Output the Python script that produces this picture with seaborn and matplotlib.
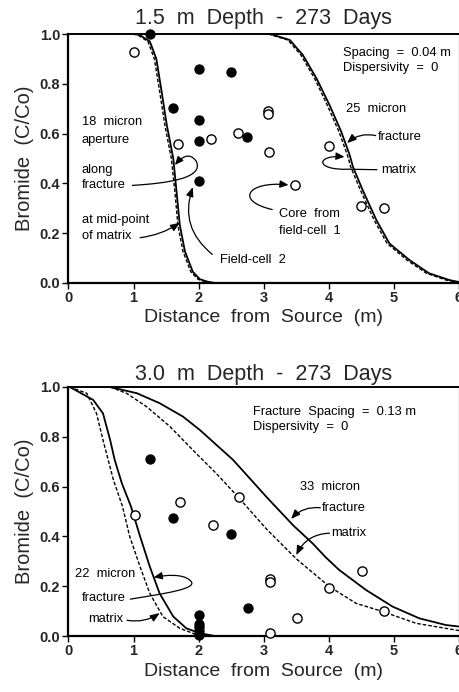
import numpy as np
import pandas as pd
import matplotlib
matplotlib.use("Agg")
import matplotlib.pyplot as plt
from matplotlib.path import Path
from matplotlib.patches import FancyArrowPatch
import seaborn as sns

# ---------------- data ----------------
# Top panel (1.5 m depth)
top_filled_x = [1.25, 2.0, 2.5, 1.6, 2.0, 2.0, 2.75, 2.0]
top_filled_y = [1.0, 0.86, 0.848, 0.704, 0.655, 0.57, 0.588, 0.41]
top_open_x = [1.0, 1.69, 2.19, 2.6, 3.07, 3.07, 3.08, 4.0, 3.48, 4.5, 4.84]
top_open_y = [0.926, 0.558, 0.577, 0.601, 0.69, 0.678, 0.527, 0.551, 0.394, 0.31, 0.30]

top18_frac_x = [1.02, 1.10, 1.25, 1.35, 1.43, 1.51, 1.61, 1.66, 1.71, 1.79, 1.91, 2.02, 2.14, 2.25]
top18_frac_y = [1.0, 0.995, 0.97, 0.90, 0.77, 0.635, 0.50, 0.367, 0.233, 0.126, 0.045, 0.015, 0.005, 0.0]
top18_mat_x = [0.99, 1.07, 1.22, 1.32, 1.40, 1.48, 1.58, 1.635, 1.68, 1.76, 1.88, 1.99, 2.10, 2.20]
top18_mat_y = [1.0, 0.995, 0.97, 0.90, 0.77, 0.635, 0.50, 0.367, 0.233, 0.126, 0.045, 0.015, 0.005, 0.0]

top25_frac_x = [3.10, 3.40, 3.60, 3.81, 4.01, 4.19, 4.32, 4.37, 4.52, 4.73, 4.93, 5.24, 5.54, 5.85, 6.0]
top25_frac_y = [1.0, 0.976, 0.916, 0.822, 0.715, 0.608, 0.514, 0.467, 0.373, 0.253, 0.159, 0.092, 0.039, 0.012, 0.004]
top25_mat_x = [3.07, 3.37, 3.57, 3.78, 3.975, 4.155, 4.285, 4.335, 4.485, 4.695, 4.895, 5.20, 5.50, 5.80, 6.0]
top25_mat_y = [1.0, 0.976, 0.916, 0.822, 0.715, 0.608, 0.514, 0.467, 0.373, 0.253, 0.159, 0.092, 0.039, 0.012, 0.002]

# Bottom panel (3.0 m depth)
bot_filled_x = [1.25, 1.6, 2.5, 2.76, 2.0, 2.0, 2.0, 2.0, 2.0]
bot_filled_y = [0.711, 0.475, 0.408, 0.114, 0.084, 0.05, 0.035, 0.02, 0.005]
bot_open_x = [1.02, 1.71, 2.22, 2.62, 3.09, 3.09, 3.09, 3.51, 4.01, 4.51, 4.85]
bot_open_y = [0.486, 0.539, 0.446, 0.557, 0.228, 0.215, 0.011, 0.071, 0.191, 0.262, 0.10]

bot22_frac_x = [0.02, 0.38, 0.53, 0.64, 0.71, 0.82, 0.96, 1.10, 1.25, 1.40, 1.61, 1.81, 2.02, 2.25]
bot22_frac_y = [1.0, 0.948, 0.894, 0.787, 0.707, 0.613, 0.52, 0.40, 0.278, 0.171, 0.078, 0.031, 0.011, 0.0]
bot22_mat_x = [0.02, 0.28, 0.43, 0.53, 0.69, 0.83, 0.94, 1.10, 1.25, 1.45, 1.71, 1.91, 2.0]
bot22_mat_y = [1.0, 0.975, 0.894, 0.787, 0.627, 0.52, 0.40, 0.278, 0.171, 0.078, 0.031, 0.011, 0.0]

bot33_frac_x = [0.64, 1.05, 1.40, 1.76, 2.02, 2.53, 3.04, 3.45, 3.75, 3.96, 4.16, 4.57, 4.98, 5.39, 5.80, 6.0]
bot33_frac_y = [1.0, 0.975, 0.935, 0.881, 0.827, 0.707, 0.559, 0.445, 0.372, 0.314, 0.265, 0.185, 0.118, 0.071, 0.044, 0.038]
bot33_mat_x = [0.64, 0.89, 1.20, 1.56, 1.91, 2.27, 2.60, 3.04, 3.50, 4.01, 4.42, 4.83, 5.34, 5.95, 6.0]
bot33_mat_y = [1.0, 0.975, 0.921, 0.841, 0.747, 0.653, 0.56, 0.43, 0.31, 0.198, 0.131, 0.098, 0.051, 0.024, 0.022]

x_ticks = [0, 1, 2, 3, 4, 5, 6]
y_ticks = [0.0, 0.2, 0.4, 0.6, 0.8, 1.0]
y_ticklabels = ["0.0", "0.2", "0.4", "0.6", "0.8", "1.0"]

# ---------------- style ----------------
sns.set_style("ticks")
plt.rcParams['font.family'] = ['Liberation Sans', 'DejaVu Sans']

fig = plt.figure(figsize=(4.6, 6.92), dpi=100)
ax1 = fig.add_axes([68.5 / 460, 1 - 283 / 692, (459 - 68.5) / 460, 249 / 692])
ax2 = fig.add_axes([68.5 / 460, 1 - 636 / 692, (459 - 68.5) / 460, 249 / 692])

solid_kw = dict(color="black", lw=1.3, estimator=None, sort=False)


def curves(ax, fx, fy, mx, my):
    sns.lineplot(x=fx, y=fy, ax=ax, **solid_kw)
    l = sns.lineplot(x=mx, y=my, ax=ax, color="black", lw=1.0, estimator=None, sort=False)
    l.lines[-1].set_linestyle((0, (2.6, 1.4)))


def points(ax, fxs, fys, oxs, oys):
    sns.scatterplot(x=fxs, y=fys, ax=ax, s=44, color="black", edgecolor="black",
                    linewidth=0.8, zorder=5, clip_on=False)
    sns.scatterplot(x=oxs, y=oys, ax=ax, s=44, facecolor="white", edgecolor="black",
                    linewidth=1.0, zorder=5, clip_on=False)


curves(ax1, top18_frac_x, top18_frac_y, top18_mat_x, top18_mat_y)
curves(ax1, top25_frac_x, top25_frac_y, top25_mat_x, top25_mat_y)
points(ax1, top_filled_x, top_filled_y, top_open_x, top_open_y)

curves(ax2, bot22_frac_x, bot22_frac_y, bot22_mat_x, bot22_mat_y)
curves(ax2, bot33_frac_x, bot33_frac_y, bot33_mat_x, bot33_mat_y)
points(ax2, bot_filled_x, bot_filled_y, bot_open_x, bot_open_y)

for ax in (ax1, ax2):
    ax.set_xlim(0, 6)
    ax.set_ylim(0, 1.0)
    ax.set_xticks(x_ticks)
    ax.set_yticks(y_ticks)
    ax.set_yticklabels(y_ticklabels)
    ax.tick_params(axis="both", direction="out", length=4, width=1.0, labelsize=10.5,
                   pad=2, color="black")
    for lab in ax.get_xticklabels() + ax.get_yticklabels():
        lab.set_fontweight("bold")
    for s in ax.spines.values():
        s.set_visible(True)
        s.set_color("black")
    ax.spines["left"].set_linewidth(1.6)
    ax.spines["bottom"].set_linewidth(1.6)
    ax.spines["top"].set_linewidth(1.4)
    ax.spines["right"].set_linewidth(0.8)
    ax.set_xlabel("Distance  from  Source  (m)", fontsize=14, labelpad=3)
    ax.set_ylabel("Bromide  (C/Co)", fontsize=14.5, labelpad=4)
    ax.set_facecolor("white")

ax1.set_title("1.5  m  Depth  -  273  Days", fontsize=15.5, pad=7)
ax2.set_title("3.0  m  Depth  -  273  Days", fontsize=15.5, pad=5)

tk = dict(fontsize=9.3, color="black")


def arrow_path(ax, verts, codes):
    p = FancyArrowPatch(path=Path(verts, codes), arrowstyle="-|>,head_length=5,head_width=2.2",
                        mutation_scale=1, lw=0.9, color="black", zorder=6)
    ax.add_patch(p)


def arrow(ax, start, end, rad):
    ax.annotate("", xy=end, xytext=start,
                arrowprops=dict(arrowstyle="-|>,head_length=0.55,head_width=0.22",
                                lw=0.9, color="black",
                                connectionstyle=f"arc3,rad={rad}", shrinkA=0, shrinkB=0))


M, L, C = Path.MOVETO, Path.LINETO, Path.CURVE4

# --- top annotations ---
ax1.text(4.21, 0.922, "Spacing  =  0.04 m", ha="left", va="center", **tk)
ax1.text(4.21, 0.862, "Dispersivity  =  0", ha="left", va="center", **tk)
ax1.text(4.27, 0.70, "25  micron", ha="left", va="center", **tk)
ax1.text(4.76, 0.588, "fracture", ha="left", va="center", **tk)
ax1.text(4.80, 0.454, "matrix", ha="left", va="center", **tk)
ax1.text(0.20, 0.648, "18  micron", ha="left", va="center", **tk)
ax1.text(0.20, 0.574, "aperture", ha="left", va="center", **tk)
ax1.text(0.20, 0.454, "along", ha="left", va="center", **tk)
ax1.text(0.20, 0.394, "fracture", ha="left", va="center", **tk)
ax1.text(0.20, 0.253, "at mid-point", ha="left", va="center", **tk)
ax1.text(0.20, 0.189, "of matrix", ha="left", va="center", **tk)
ax1.text(2.33, 0.092, "Field-cell  2", ha="left", va="center", **tk)
ax1.text(3.24, 0.277, "Core  from", ha="left", va="center", **tk)
ax1.text(3.24, 0.21, "field-cell  1", ha="left", va="center", **tk)

arrow(ax1, (4.72, 0.592), (4.28, 0.562), 0.25)
arrow_path(ax1, [(4.74, 0.455), (4.3, 0.457), (3.78, 0.452), (3.8, 0.515), (4.24, 0.507)],
           [M, L, C, C, C])
arrow_path(ax1, [(0.98, 0.392), (1.5, 0.40), (2.1, 0.42), (1.96, 0.49),
                 (1.85, 0.53), (1.72, 0.50), (1.635, 0.474)],
           [M, C, C, C, C, C, C])
arrow(ax1, (1.10, 0.182), (1.71, 0.242), 0.12)
arrow(ax1, (2.21, 0.115), (1.91, 0.385), -0.35)
arrow_path(ax1, [(3.13, 0.295), (2.55, 0.33), (2.75, 0.41), (3.38, 0.394)],
           [M, C, C, C])

# --- bottom annotations ---
ax2.text(2.83, 0.90, "Fracture  Spacing  =  0.13 m", ha="left", va="center", **tk)
ax2.text(2.83, 0.84, "Dispersivity  =  0", ha="left", va="center", **tk)
ax2.text(3.55, 0.60, "33  micron", ha="left", va="center", **tk)
ax2.text(3.90, 0.513, "fracture", ha="left", va="center", **tk)
ax2.text(4.03, 0.412, "matrix", ha="left", va="center", **tk)
ax2.text(0.10, 0.249, "22  micron", ha="left", va="center", **tk)
ax2.text(0.20, 0.151, "fracture", ha="left", va="center", **tk)
ax2.text(0.30, 0.067, "matrix", ha="left", va="center", **tk)

arrow(ax2, (3.87, 0.515), (3.42, 0.47), 0.25)
arrow(ax2, (4.01, 0.413), (3.50, 0.325), 0.3)
arrow_path(ax2, [(0.95, 0.148), (1.45, 0.17), (2.05, 0.19), (1.86, 0.225),
                 (1.75, 0.25), (1.5, 0.245), (1.31, 0.236)],
           [M, C, C, C, C, C, C])
arrow(ax2, (0.90, 0.063), (1.40, 0.092), 0.2)

fig.savefig("out.png", dpi=100, facecolor="white")
